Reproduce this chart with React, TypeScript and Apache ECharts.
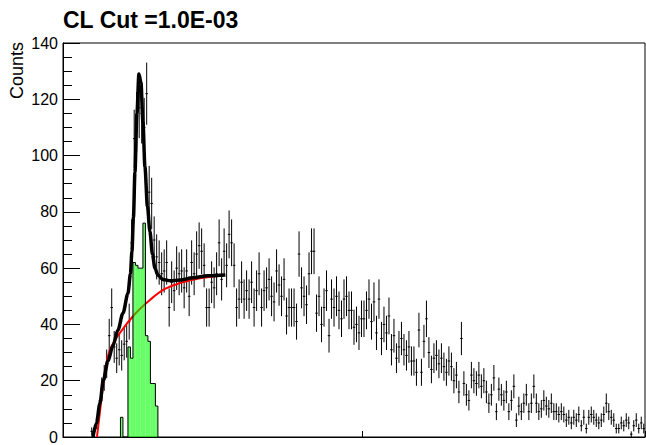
import React, { useEffect, useRef } from "react";
import * as echarts from "echarts";

// Histogram counts per bin (233 bins)
const counts: number[] = [
  0, 0, 0, 0, 0, 0, 0, 0, 0, 0,
  0, 2, 2, 5, 10, 17, 21, 26, 36, 46,
  32, 28, 31, 29, 33, 34, 41, 69, 106, 112,
  117, 115, 110, 122, 87, 83, 70, 64, 62, 58,
  59, 62, 46, 55, 52, 60, 58, 59, 53, 59,
  50, 62, 58, 65, 68, 66, 61, 46, 46, 55,
  53, 58, 69, 56, 66, 61, 72, 69, 61, 46,
  49, 55, 49, 52, 49, 55, 46, 52, 58, 46,
  52, 53, 56, 50, 48, 59, 54, 50, 56, 43,
  46, 46, 46, 41, 65, 53, 50, 47, 58, 66,
  66, 44, 50, 40, 46, 52, 36, 49, 46, 50,
  45, 42, 49, 50, 45, 45, 39, 40, 37, 42,
  42, 45, 49, 41, 48, 37, 49, 35, 40, 37,
  43, 31, 36, 28, 32, 35, 31, 29, 32, 27,
  27, 23, 38, 23, 34, 42, 30, 24, 28, 29,
  26, 28, 25, 23, 27, 25, 20, 22, 16, 35,
  19, 15, 13, 22, 20, 19, 22, 18, 20, 16,
  12, 15, 21, 9, 17, 15, 13, 16, 9, 13,
  18, 6, 11, 9, 12, 15, 9, 12, 18, 12,
  9, 10, 13, 11, 10, 12, 9, 9, 8, 9,
  8, 6, 7, 5, 7, 6, 8, 4, 7, 3,
  7, 8, 7, 6, 5, 6, 8, 12, 9, 7,
  6, 3, 3, 5, 4, 6, 5, 1, 4, 6,
  3, 5, 3,
];

// Signal (green) histogram, starting at bin greenStart
const greenStart = 23;
const greenCounts: number[] = [7, 0, 0, 32, 28, 62, 61, 60, 60, 76, 36, 34, 19, 19, 11];

// Total fit (black) sampled points: x in bin units, y in counts
const fitTotalX: number[] = [12.0, 13.4, 14.8, 16.1, 18.0, 20.0, 22.0, 24.0, 26.0, 27.0, 27.6, 28.2, 28.8, 29.6, 30.4, 31.2, 32.0, 32.8, 33.8, 34.8, 35.8, 36.8, 38.0, 40.0, 43.0, 47.0, 52.0, 58.0, 65.0];
const fitTotalY: number[] = [0, 5, 12, 20, 27, 32.5, 38, 44, 51, 58, 66, 78, 94, 115, 129, 126, 112, 96, 82, 73, 65, 60, 57.5, 56, 55.5, 55.8, 56.6, 57.3, 57.6];

// Background fit (red)
const fitBkgX: number[] = [13.6, 14.8, 16.8, 18.8, 22.8, 28.8, 34.8, 40.8, 46.8, 54.8, 64.8];
const fitBkgY: number[] = [0, 9, 23, 31, 37, 43.7, 48.7, 52.6, 54.7, 56.4, 57.6];

const yTicks = { min: 0, max: 140, interval: 20 };
const nBins = counts.length;

export default function App() {
  const ref = useRef<HTMLDivElement>(null);
  useEffect(() => {
    document.body.style.margin = "0";
    if (!ref.current) return;
    const chart = echarts.init(ref.current, undefined, { renderer: "svg" });
    const font = "Liberation Sans";
    const countsData = counts.map((v, i) => [i, v]);
    const greenData = greenCounts.map((v, k) => [
      greenStart + k,
      v,
      k > 0 ? greenCounts[k - 1] : 0,
      k === greenCounts.length - 1 ? 1 : 0,
    ]);
    const totalData = fitTotalX.map((x, k) => [x, fitTotalY[k]]);
    const bkgData = fitBkgX.map((x, k) => [x, fitBkgY[k]]);

    chart.setOption({
      animation: false,
      title: {
        text: "CL Cut =1.0E-03",
        left: 63,
        top: 8,
        padding: 0,
        textStyle: { fontFamily: font, fontSize: 23, fontWeight: "bold", color: "#000" },
      },
      grid: {
        left: 63,
        right: 1,
        top: 43,
        bottom: 5,
        show: true,
        borderColor: "#000",
        borderWidth: 1,
      },
      xAxis: {
        type: "value",
        min: 0,
        max: nBins,
        interval: 120,
        axisLine: { show: true, lineStyle: { color: "#000" } },
        axisTick: { show: true, inside: true, length: 6, lineStyle: { color: "#000" } },
        axisLabel: { show: false },
        splitLine: { show: false },
      },
      yAxis: {
        type: "value",
        min: yTicks.min,
        max: yTicks.max,
        interval: yTicks.interval,
        axisLine: { show: true, lineStyle: { color: "#000" } },
        axisTick: { show: true, inside: true, length: 17, lineStyle: { color: "#000" } },
        minorTick: { show: true, splitNumber: 4, length: 9, lineStyle: { color: "#000" } },
        axisLabel: { fontFamily: font, fontSize: 16, color: "#000", margin: 5 },
        splitLine: { show: false },
      },
      graphic: [
        {
          type: "text",
          x: 8,
          y: 42,
          rotation: Math.PI / 2,
          style: {
            text: "Counts",
            fontFamily: font,
            fontSize: 18,
            fill: "#000",
            align: "right",
            verticalAlign: "top",
          },
        },
      ],
      series: [
        {
          type: "custom",
          z: 2,
          data: countsData,
          renderItem: (params: any, api: any) => {
            const i = api.value(0) as number;
            const v = api.value(1) as number;
            if (!(v > 0)) return null;
            const e = Math.sqrt(v);
            const l = api.coord([i, v]);
            const r = api.coord([i + 1, v]);
            const t = api.coord([i + 0.5, v + e]);
            const b = api.coord([i + 0.5, Math.max(0, v - e)]);
            return {
              type: "group",
              children: [
                { type: "line", shape: { x1: t[0], y1: t[1], x2: b[0], y2: b[1] }, style: { stroke: "#000", lineWidth: 1 } },
                { type: "line", shape: { x1: l[0], y1: l[1], x2: r[0], y2: r[1] }, style: { stroke: "#000", lineWidth: 1 } },
              ],
            };
          },
        },
        {
          type: "line",
          z: 3,
          data: bkgData,
          showSymbol: false,
          smooth: 0.4,
          lineStyle: { color: "#ff0000", width: 2 },
        },
        {
          type: "custom",
          z: 4,
          data: greenData,
          renderItem: (params: any, api: any) => {
            const i = api.value(0) as number;
            const v = api.value(1) as number;
            if (!(v > 0)) return null;
            const tl = api.coord([i, v]);
            const br = api.coord([i + 1, 0]);
            return {
              type: "rect",
              shape: { x: tl[0], y: tl[1], width: br[0] - tl[0], height: br[1] - tl[1] },
              style: { fill: "rgba(0,255,0,0.6)" },
            };
          },
        },
        {
          type: "custom",
          z: 5,
          data: greenData,
          renderItem: (params: any, api: any) => {
            const i = api.value(0) as number;
            const v = api.value(1) as number;
            const p = api.value(2) as number;
            const last = api.value(3) as number;
            const pts: number[][] = [api.coord([i, p]), api.coord([i, v]), api.coord([i + 1, v])];
            if (last) pts.push(api.coord([i + 1, 0]));
            return {
              type: "polyline",
              shape: { points: pts },
              style: { stroke: "#000", lineWidth: 1, fill: null },
            };
          },
        },
        {
          type: "line",
          z: 6,
          data: totalData,
          showSymbol: false,
          smooth: 0.3,
          smoothMonotone: "x",
          lineStyle: { color: "#000", width: 3.5 },
        },
      ],
    });
    return () => chart.dispose();
  }, []);
  return <div ref={ref} style={{ width: 646, height: 445 }} />;
}
